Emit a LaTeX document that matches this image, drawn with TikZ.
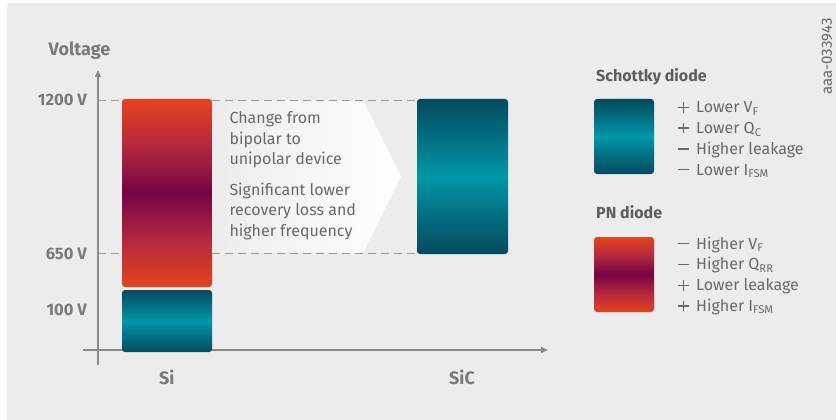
\documentclass[tikz,border=0pt]{standalone}
\usepackage{fontspec}
\setmainfont{Fira Sans}
\usepackage{tikz}
\usetikzlibrary{positioning, arrows.meta, shapes}

\definecolor{bggrey}{HTML}{ECECEC}
\definecolor{textgrey}{HTML}{696969}
\definecolor{labelgrey}{HTML}{7A7A7A}
\definecolor{titlegrey}{HTML}{5E5E5E}
\definecolor{axisgrey}{HTML}{8A8A8A}
\definecolor{guidegrey}{HTML}{9A9A9A}
\definecolor{tealdark}{HTML}{044A5E}
\definecolor{tealmid}{HTML}{03768A}
\definecolor{tealbright}{HTML}{0098A8}
\definecolor{redtop}{HTML}{E5431C}
\definecolor{redmid}{HTML}{B72A3D}
\definecolor{redcore}{HTML}{740445}

\pgfdeclareverticalshading{tealshade}{100bp}{color(0bp)=(tealdark); color(25bp)=(tealdark); color(40bp)=(tealmid); color(50bp)=(tealbright); color(60bp)=(tealmid); color(75bp)=(tealdark); color(100bp)=(tealdark)}
\pgfdeclareverticalshading{redshade}{100bp}{color(0bp)=(redtop); color(25bp)=(redtop); color(37bp)=(redmid); color(50bp)=(redcore); color(63bp)=(redmid); color(75bp)=(redtop); color(100bp)=(redtop)}

% signos + y - del tamano de las mayusculas
\newcommand{\good}{\makebox[18pt][l]{\rule[4.8pt]{11pt}{1.3pt}\hspace*{-6.15pt}\rule[0.1pt]{1.3pt}{10.6pt}}}
\newcommand{\bad}{\makebox[18pt][l]{\rule[4.8pt]{11pt}{1.3pt}}}

\tikzset{Bar style/.style={rounded corners=3pt, inner sep=0pt, minimum width=90pt}}
\tikzset{
	Axis style/.style={draw=axisgrey, line width=1.2pt, -{Triangle[length=7pt, width=6pt]}}, % ejes
	Guide style/.style={draw=guidegrey, line width=0.9pt, dash pattern=on 8pt off 5pt}, % lineas de nivel
	Label style/.style={text=labelgrey, inner sep=0pt, font=\fontsize{16.5}{20}\selectfont\bfseries},
	Big style/.style={text=labelgrey, inner sep=0pt, font=\fontsize{18}{22}\selectfont\bfseries},
	Title style/.style={text=titlegrey, inner sep=0pt, font=\fontsize{16}{20}\selectfont\bfseries},
	Item style/.style={text=textgrey, inner sep=0pt, align=left, font=\fontsize{16}{20.8}\selectfont},
}

\begin{document}
\begin{tikzpicture}[x=1pt, y=-1pt]
        \useasboundingbox (0,0) rectangle (836,420);
        \fill[bggrey] (7,3) rectangle (836,420);

        % ejes
        \coordinate (y bottom) at (98,365);
        \coordinate (y top) at (98,70);
        \coordinate (x left) at (83,350);
        \coordinate (x right) at (548,350);
        \coordinate (tick1200) at (98,100);
        \coordinate (tick650) at (98,253);

        \node[Big style, anchor=base] (voltage) at (79.5,56) {Voltage};
        \node[Label style, anchor=base east] (l1200) at (87,106) {1200 V};
        \node[Label style, anchor=base east] (l650) at (87,259) {650 V};
        \node[Label style, anchor=base east] (l100) at (87,315) {100 V};

        % barras
        \node[Bar style, shading=redshade, minimum height=188pt] (si red) at (167,193) {};
        \node[Bar style, shading=tealshade, minimum width=91pt, minimum height=155pt] (sic) at (462.5,176.5) {};

        % flecha de cambio
        \shade[left color=bggrey, right color=white] (si red.east |- tick1200) -- (363,100) -- (401,176.5) -- (363,253) -- (si red.east |- tick650) -- cycle;

        \draw[Guide style] (tick1200) -- (tick1200 -| si red.west);
        \draw[Guide style] (tick1200 -| si red.east) -- (tick1200 -| sic.west);
        \draw[Guide style] (tick650) -- (tick650 -| si red.west);
        \draw[Guide style] (tick650 -| si red.east) -- (tick650 -| sic.west);

        \draw[Axis style] (y bottom) -- (y top);
        \draw[Axis style] (x left) -- (x right);
        \node[Bar style, shading=tealshade, minimum height=62pt] (si teal) at (167,321) {};

        % el ancla base es la de la ultima linea
        \node[Item style, anchor=base west] (change) at (229.3,164.9) {Change from\\bipolar to\\unipolar device};
        \node[Item style, anchor=base west] (loss) at (229.3,236.6) {Significant lower\\recovery loss and\\higher frequency};

        \node[Big style, anchor=base] (si label) at (166.7,384) {Si};
        \node[Big style, anchor=base] (sic label) at (462,384) {SiC};

        % leyenda
        \node[Title style, anchor=base west] (schottky title) at (596,81.7) {Schottky diode};
        \node[Bar style, shading=tealshade, minimum width=60pt, minimum height=75pt] (schottky box) at (624,136.5) {};
        \node[Item style, anchor=base west] (schottky items) at (678,175.1) {\good Lower V\textsubscript{F}\\\good Lower Q\textsubscript{C}\\\bad Higher leakage\\\bad Lower I\textsubscript{FSM}};

        \node[Title style, anchor=base west] (pn title) at (596,218.3) {PN diode};
        \node[Bar style, shading=redshade, minimum width=60pt, minimum height=75pt] (pn box) at (624,274.5) {};
        \node[Item style, anchor=base west] (pn items) at (678,311.4) {\bad Higher V\textsubscript{F}\\\bad Higher Q\textsubscript{RR}\\\good Lower leakage\\\good Higher I\textsubscript{FSM}};

        \node[text=textgrey, inner sep=0pt, rotate=90, font=\fontsize{15}{17}\selectfont] (code) at (827,56.5) {aaa-033943};
\end{tikzpicture}
\end{document}
